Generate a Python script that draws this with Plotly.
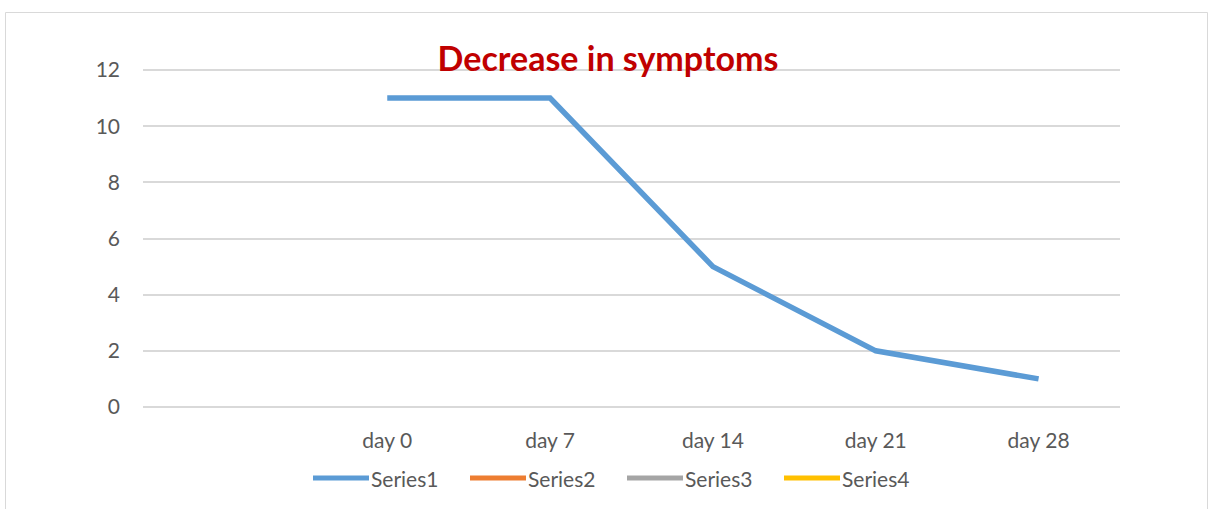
import plotly.graph_objects as go

categories = ["day 0", "day 7", "day 14", "day 21", "day 28"]
series1 = [11, 11, 5, 2, 1]
series_names = ["Series1", "Series2", "Series3", "Series4"]
series_colors = ["#5B9BD5", "#ED7D31", "#A5A5A5", "#FFC000"]
y_ticks = [0, 2, 4, 6, 8, 10, 12]

FONT = "Lato, Open Sans, sans-serif"
W, H = 1209, 509
L, R, T, B = 143, 1120, 69, 408
pw, ph = R - L, B - T
YPAD = 0.036

def px_x(p):
    return (p - L) / pw

def px_y(p):
    return (B - p) / ph

fig = go.Figure()
fig.add_trace(go.Scatter(x=categories, y=series1, mode="lines", name=series_names[0],
                         line=dict(color=series_colors[0], width=5.5), showlegend=False))

shapes = [dict(type="rect", xref="paper", yref="paper",
               x0=px_x(5.5), x1=px_x(1207.5), y0=px_y(530), y1=px_y(12.5),
               line=dict(color="#D9D9D9", width=1), fillcolor="rgba(0,0,0,0)", layer="below")]
annotations = []
# custom legend matching the reference's long line keys
leg_start = 313
leg_step = 157
for i, (n, c) in enumerate(zip(series_names, series_colors)):
    x0 = leg_start + i * leg_step
    shapes.append(dict(type="line", xref="paper", yref="paper",
                       x0=px_x(x0), x1=px_x(x0 + 56), y0=px_y(478), y1=px_y(478),
                       line=dict(color=c, width=5)))
    annotations.append(dict(text=n, xref="paper", yref="paper", x=px_x(x0 + 56), y=px_y(478),
                            xanchor="left", yanchor="middle", showarrow=False,
                            font=dict(family=FONT, size=21, color="#595959")))

fig.update_layout(
    width=W, height=H,
    margin=dict(l=L, r=W - R, t=T, b=H - B),
    paper_bgcolor="white", plot_bgcolor="white",
    font=dict(family=FONT, color="#595959", size=21),
    title=dict(text="<b>Decrease in symptoms</b>", x=px_x(608), xref="paper", xanchor="center",
               y=1 - 59 / H, yref="container", yanchor="middle",
               font=dict(family=FONT, size=34, color="#C00000")),
    xaxis=dict(type="category", categoryarray=categories, categoryorder="array",
               range=[-1.5, 4.5], showgrid=False, zeroline=False, showline=False,
               ticks="", ticklabelstandoff=18, tickfont=dict(size=21, color="#595959")),
    yaxis=dict(range=[-YPAD, 12 + YPAD], tickvals=y_ticks, showgrid=True, gridcolor="#D9D9D9",
               gridwidth=2, zeroline=False, showline=False, ticks="",
               ticklabelstandoff=22, tickfont=dict(size=21, color="#595959")),
    showlegend=False,
    shapes=shapes,
    annotations=annotations,
)

fig.write_html("out.html", config={"displayModeBar": False},
               post_script="document.body.style.margin='0px';")
